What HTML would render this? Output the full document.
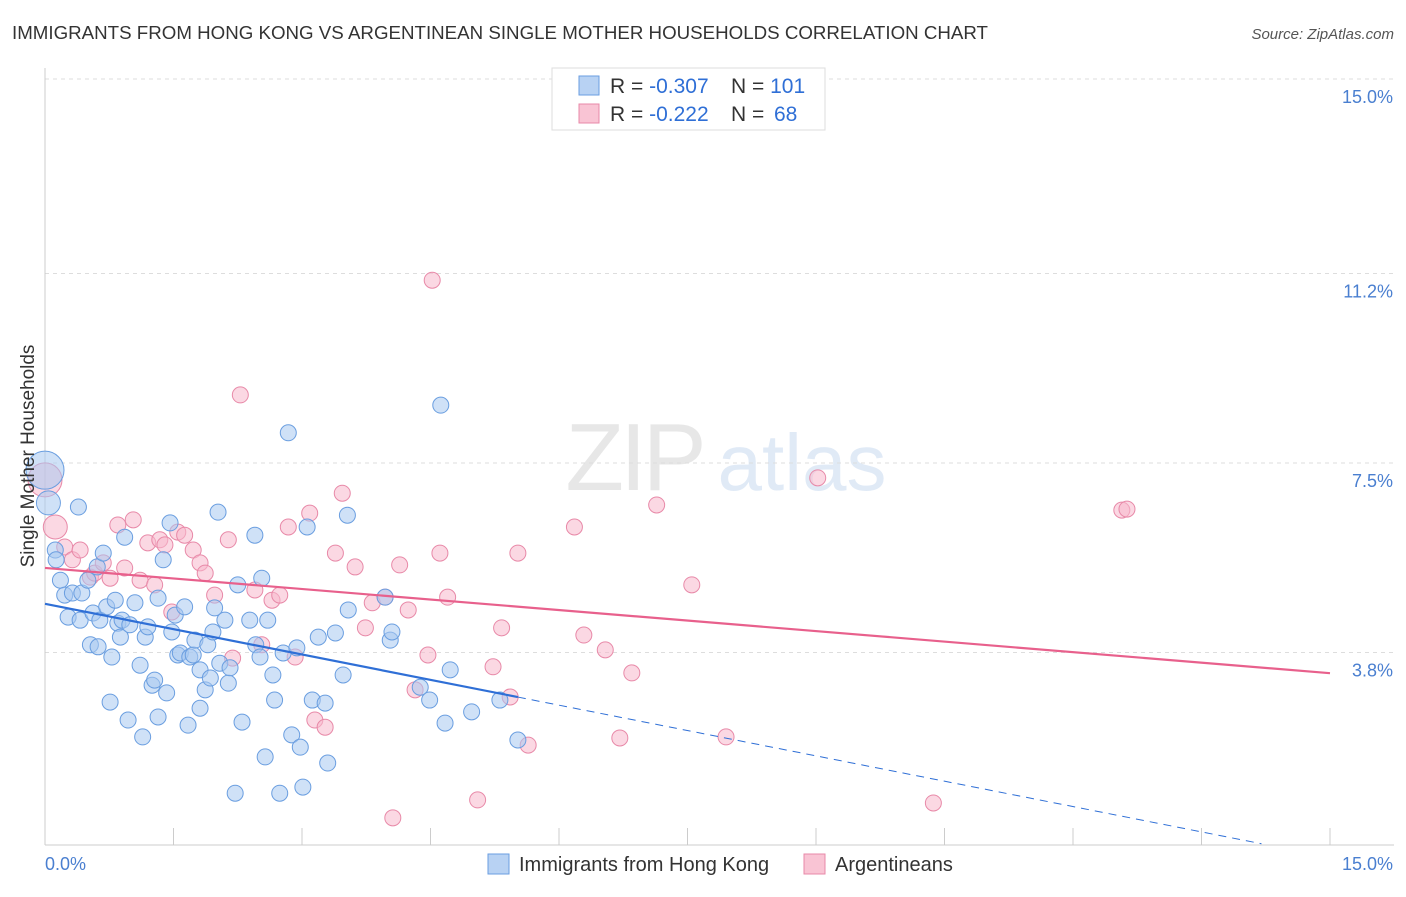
<!DOCTYPE html>
<html><head><meta charset="utf-8">
<style>
body{margin:0;background:#fff;font-family:"Liberation Sans",sans-serif;}
svg text{font-family:"Liberation Sans",sans-serif;}
</style></head>
<body>
<svg id="chart" width="1406" height="892" viewBox="0 0 1406 892" xmlns="http://www.w3.org/2000/svg">
<text x="12" y="39" font-size="18.5" fill="#333" textLength="976" lengthAdjust="spacingAndGlyphs">IMMIGRANTS FROM HONG KONG VS ARGENTINEAN SINGLE MOTHER HOUSEHOLDS CORRELATION CHART</text>
<text x="1394" y="39" font-size="15" fill="#555" font-style="italic" text-anchor="end">Source: ZipAtlas.com</text>
<g opacity="0.35">
<text x="634" y="490" font-size="96" fill="#bbb" font-family="Liberation Serif" text-anchor="middle" letter-spacing="-4">ZIP</text>
<text x="802" y="490" font-size="80" fill="#a9c4e8" text-anchor="middle">atlas</text>
</g>
<g id="grid"></g>
<g id="axes"></g>
<g id="pts"></g>
<g id="trends"></g>
<text x="34" y="456" font-size="19" fill="#333" text-anchor="middle" transform="rotate(-90 34 456)">Single Mother Households</text>
<g>
<rect x="552" y="68" width="273" height="62" fill="#fff" stroke="#ddd"/>
<rect x="579" y="76" width="20" height="19" fill="#b8d2f3" stroke="#6a9ee0"/>
<rect x="579" y="104" width="20" height="19" fill="#f9c4d4" stroke="#e889a8"/>
<text x="610" y="93" font-size="21" fill="#333">R = <tspan fill="#2f6fd6">-0.307</tspan><tspan x="731">N = </tspan><tspan fill="#2f6fd6">101</tspan></text>
<text x="610" y="121" font-size="21" fill="#333">R = <tspan fill="#2f6fd6"> -0.222</tspan><tspan x="731">N = </tspan><tspan fill="#2f6fd6" x="774">68</tspan></text>
</g>
<g>
<rect x="488" y="854" width="21" height="20" fill="#b8d2f3" stroke="#6a9ee0"/>
<text x="519" y="871" font-size="20" fill="#333">Immigrants from Hong Kong</text>
<rect x="804" y="854" width="21" height="20" fill="#f9c4d4" stroke="#e889a8"/>
<text x="835" y="871" font-size="20" fill="#333">Argentineans</text>
</g>
</svg>
<script>
const yTicks=[3.8,7.5,11.2,15.0];
const yTickLabels=["3.8%","7.5%","11.2%","15.0%"];
const xTickLabels=["0.0%","15.0%"];
const blueX=[0,.04,.12,.13,.18,.23,.27,.32,.39,.41,.43,.50,.53,.56,.61,.62,.64,.68,.72,.76,.78,.82,.85,.88,.90,.93,.97,.99,1.05,1.11,1.14,1.17,1.20,1.25,1.28,1.32,1.32,1.38,1.42,1.46,1.48,1.52,1.55,1.58,1.63,1.67,1.69,1.73,1.75,1.81,1.81,1.87,1.90,1.93,1.96,1.98,2.02,2.04,2.10,2.14,2.16,2.22,2.25,2.30,2.39,2.45,2.46,2.51,2.53,2.57,2.60,2.66,2.68,2.74,2.78,2.84,2.88,2.94,2.98,3.01,3.06,3.12,3.19,3.27,3.30,3.39,3.48,3.53,3.54,3.97,4.03,4.05,4.38,4.49,4.62,4.67,4.73,4.98,5.31,5.52];
const blueY=[7.36,6.72,5.80,5.61,5.21,4.92,4.49,4.96,6.64,4.43,4.96,5.21,3.95,4.57,5.47,3.91,4.43,5.74,4.69,2.83,3.71,4.82,4.37,4.10,4.43,6.05,2.48,4.34,4.77,3.55,2.15,4.10,4.30,3.16,3.26,2.54,4.86,5.61,3.01,6.33,4.20,4.53,3.75,3.79,4.69,2.38,3.71,3.75,4.04,2.71,3.46,3.07,3.95,3.30,4.20,4.67,6.54,3.59,4.43,3.20,3.50,1.05,5.12,2.44,4.43,6.09,3.95,3.71,5.25,1.76,4.43,3.36,2.87,1.05,3.79,8.09,2.19,3.89,1.95,1.17,6.25,2.87,4.10,2.81,1.64,4.18,3.36,6.48,4.63,4.88,4.04,4.20,3.12,2.87,8.63,2.42,3.46,2.64,2.87,2.09];
const pinkX=[0,.12,.23,.32,.41,.53,.58,.68,.76,.85,.93,1.03,1.11,1.20,1.28,1.34,1.40,1.48,1.55,1.63,1.73,1.81,1.87,1.98,2.14,2.19,2.28,2.45,2.53,2.65,2.74,2.84,2.92,3.09,3.15,3.27,3.39,3.47,3.62,3.74,3.82,3.97,4.06,4.14,4.24,4.32,4.47,4.52,4.61,4.70,5.05,5.23,5.33,5.43,5.52,5.64,6.18,6.29,6.54,6.71,6.85,7.14,7.55,7.95,9.02,10.37,12.57,12.63];
const pinkY=[7.17,6.25,5.86,5.61,5.80,5.27,5.35,5.55,5.25,6.29,5.45,6.39,5.21,5.94,5.12,6.00,5.90,4.59,6.15,6.09,5.80,5.55,5.35,4.92,6.00,3.69,8.83,5.02,3.95,4.82,4.92,6.25,3.71,6.52,2.48,2.34,5.74,6.91,5.47,4.28,4.77,4.88,0.57,5.51,4.63,3.07,3.75,11.07,5.74,4.88,0.92,3.52,4.28,2.93,5.74,1.99,6.25,4.14,3.85,2.13,3.40,6.68,5.12,2.15,7.21,0.86,6.58,6.60];
const blueTrend=[4.75,-0.33];const blueSolidEnd=5.52;const blueDashEnd=14.2;
const pinkTrend=[5.45,-0.137];
const NS="http://www.w3.org/2000/svg";
const X=v=>45+v*(1285/15);
const Y=v=>847-v*(192/3.75);
function mk(t,a,p){const e=document.createElementNS(NS,t);for(const k in a)e.setAttribute(k,a[k]);p.appendChild(e);return e;}
const grid=document.getElementById('grid'),axes=document.getElementById('axes');
yTicks.forEach((t,i)=>{
 const l=mk('line',{x1:45,x2:1394,y1:Y(t),y2:Y(t),stroke:'#ddd','stroke-dasharray':'4,4'},grid);
 
 
 const tx=mk('text',{x:1393,y:Y(t)+24,'font-size':18,fill:'#4a7fd0','text-anchor':'end'},axes);
 tx.textContent=yTickLabels[i];
 
 
});
mk('line',{x1:45,x2:45,y1:68,y2:845,stroke:'#ccc'},axes);
mk('line',{x1:45,x2:1394,y1:845,y2:845,stroke:'#ccc'},axes);
for(let i=0;i<=10;i++){
 const t=mk('line',{x1:X(i*1.5),x2:X(i*1.5),y1:828,y2:845,stroke:'#ccc'},axes);
 
 
}
const xl0=mk('text',{x:45,y:870,'font-size':18,fill:'#4a7fd0'},axes);xl0.textContent=xTickLabels[0];


const xl1=mk('text',{x:1393,y:870,'font-size':18,fill:'#4a7fd0','text-anchor':'end'},axes);xl1.textContent=xTickLabels[1];


const pts=document.getElementById('pts');
function drawPts(xs,ys,fill,stroke,name,big){
 xs.forEach((x,i)=>{
  const r=i===0?big:(i===1?12:8);
  const c=mk('circle',{cx:X(x),cy:Y(ys[i]),r:r,fill:fill,'fill-opacity':0.55,stroke:stroke,'stroke-width':1},pts);
  
  
 });
}
drawPts(pinkX,pinkY,'#f7b8cc','#e889a8','pink-point',17);
drawPts(blueX,blueY,'#a8c8f0','#6a9ee0','blue-point',19);
const tr=document.getElementById('trends');
const b1=mk('line',{x1:X(0),y1:Y(blueTrend[0]),x2:X(blueSolidEnd),y2:Y(blueTrend[0]+blueTrend[1]*blueSolidEnd),stroke:'#2f6fd6','stroke-width':2.2},tr);


const b2=mk('line',{x1:X(blueSolidEnd),y1:Y(blueTrend[0]+blueTrend[1]*blueSolidEnd),x2:X(blueDashEnd),y2:Y(blueTrend[0]+blueTrend[1]*blueDashEnd),stroke:'#2f6fd6','stroke-width':1,'stroke-dasharray':'8,6'},tr);


const p1=mk('line',{x1:X(0),y1:Y(pinkTrend[0]),x2:X(15),y2:Y(pinkTrend[0]+pinkTrend[1]*15),stroke:'#e8608c','stroke-width':2.2},tr);


</script>
</body></html>
